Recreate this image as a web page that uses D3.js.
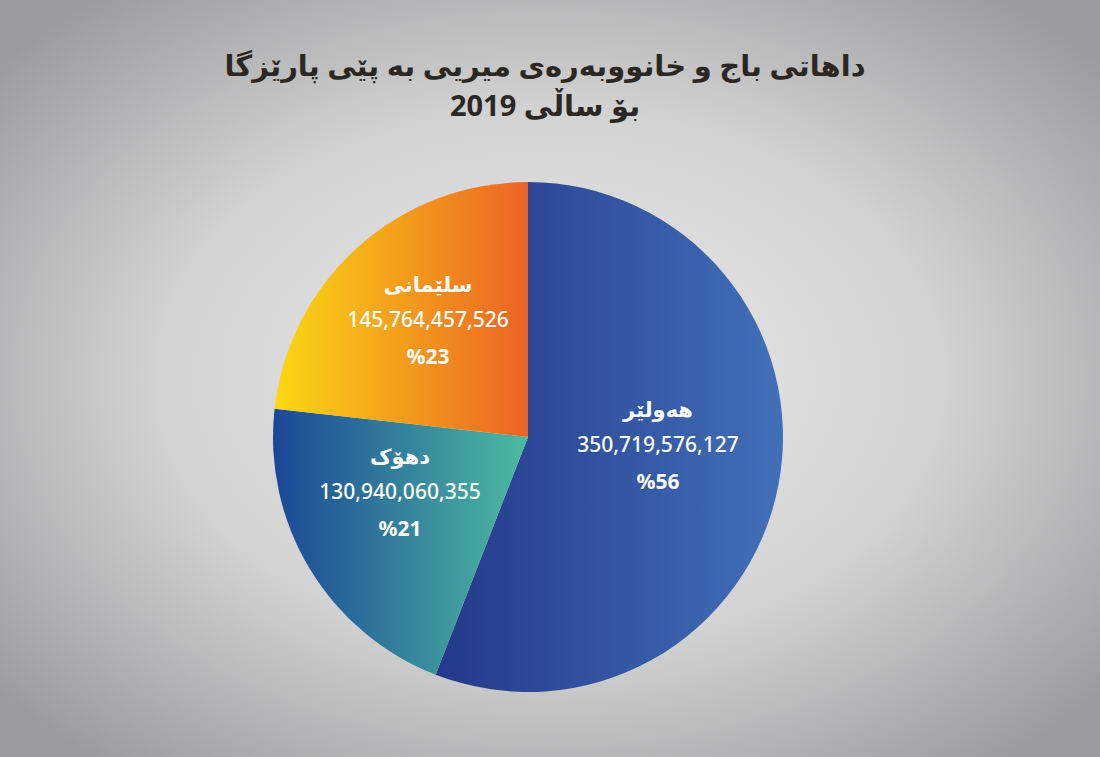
<!DOCTYPE html>
<html><head><meta charset="utf-8">
<script src="https://cdn.jsdelivr.net/npm/d3@7"></script>
<style>body{margin:0;overflow:hidden}</style>
</head><body>
<svg id="c" width="1100" height="757"></svg>
<script>
const names = ["هەولێر", "دهۆک", "سلێمانی"];
const values = [350719576127, 130940060355, 145764457526];
const percents = ["%56", "%21", "%23"];
const gradStops = [["#24398a", "#4270b8"], ["#1b4797", "#4dbba0"], ["#fbd814", "#ec6324"]];
const titleLines = ["داهاتی  باج و خانووبەرەی میریی بە پێی پارێزگا", "بۆ ساڵی 2019"];

const svg = d3.select("#c");
const defs = svg.append("defs");
const bg = defs.append("radialGradient").attr("id","bg").attr("cx","50%").attr("cy","50%").attr("r","65%");
bg.append("stop").attr("offset","0%").attr("stop-color","#ececec");
bg.append("stop").attr("offset","55%").attr("stop-color","#d2d2d3");
bg.append("stop").attr("offset","100%").attr("stop-color","#9c9c9e");
svg.append("rect").attr("width",1100).attr("height",757).attr("fill","url(#bg)");

gradStops.forEach((s,i)=>{
  const g = defs.append("linearGradient").attr("id","g"+i).attr("x1","0%").attr("x2","100%").attr("y1","0%").attr("y2","0%");
  g.append("stop").attr("offset","0%").attr("stop-color",s[0]);
  g.append("stop").attr("offset","100%").attr("stop-color",s[1]);
});

svg.selectAll("text.title").data(titleLines).enter().append("text")
  .attr("x",545).attr("y",(d,i)=>76+i*40).attr("text-anchor","middle")
  .attr("font-family","Noto Sans, DejaVu Sans").attr("font-weight","bold").attr("font-size",29)
  .attr("fill","#2b2823").attr("direction","rtl").style("unicode-bidi","plaintext").text(d=>d);

const cx=528, cy=437, R=255;
const pie = d3.pie().sort(null).value(d=>d);
const arcs = pie(values);
const arc = d3.arc().innerRadius(0).outerRadius(R);
const g = svg.append("g").attr("transform",`translate(${cx},${cy})`);
g.selectAll("path").data(arcs).enter().append("path")
  .attr("d",arc).attr("fill",(d,i)=>`url(#g${i})`).attr("gradientUnits","userSpaceOnUse");

const labelPos = [[130,-20],[-128,27],[-100,-145]];
arcs.forEach((a,i)=>{
  const [x,y]=labelPos[i];
  const t = g.append("g").attr("transform",`translate(${x},${y})`)
    .attr("fill","#fff").attr("font-family","Noto Sans, DejaVu Sans").attr("text-anchor","middle");
  t.append("text").attr("y",0).attr("font-weight","bold").attr("font-size",21).attr("direction","rtl").text(names[i]);
  t.append("text").attr("y",35).attr("font-size",21).attr("font-weight","500").text(d3.format(",")(values[i]));
  t.append("text").attr("y",72).attr("font-size",21).attr("font-weight","bold").text(percents[i]);
});
</script>
</body></html>
